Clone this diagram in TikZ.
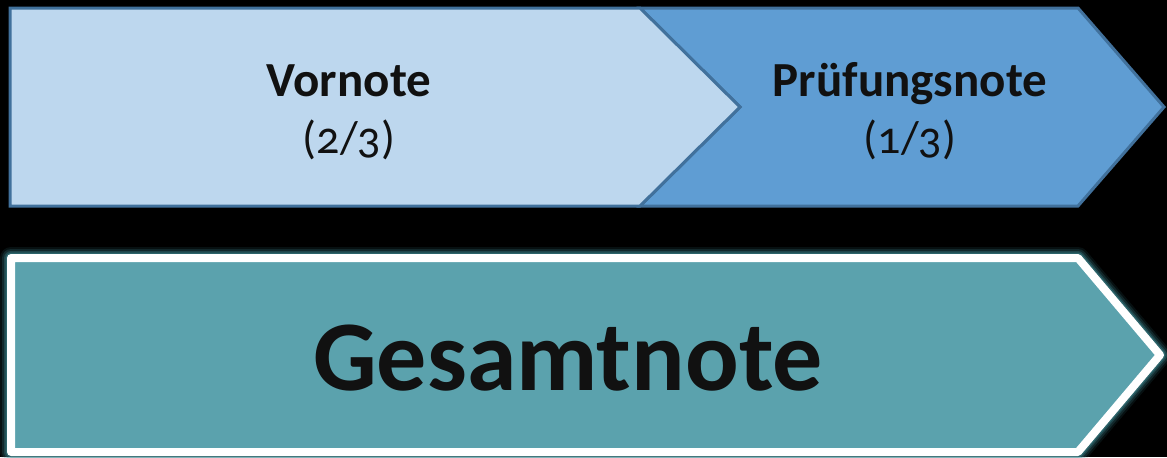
\documentclass[tikz,border=0pt]{standalone}
\usepackage{fontspec}
\setmainfont{Carlito}[Numbers=OldStyle]
\definecolor{vorfill}{HTML}{BDD7EE}
\definecolor{prueffill}{HTML}{5F9DD3}
\definecolor{rand}{HTML}{41719C}
\definecolor{gesamtfill}{HTML}{5BA2AD}
\definecolor{glow}{HTML}{3E8A93}
\definecolor{schrift}{HTML}{111111}
\tikzset{
  teil/.style={draw=rand,line width=1.5pt,line join=miter},
  kopf/.style={anchor=base,text=schrift,font=\bfseries\fontsize{24.5}{28}\selectfont},
  anteil/.style={anchor=base,text=schrift,font=\fontsize{23}{27}\selectfont},
}
\begin{document}
\begin{tikzpicture}[x=0.5pt,y=-0.5pt]
\useasboundingbox (0,0) rectangle (1167,457);
\clip (0,0) rectangle (1167,457);
\fill[black] (0,0) rectangle (1167,457);

% obere Pfeile
\draw[teil,fill=prueffill] (640,8) -- (1078,8) -- (1164,107) -- (1078,206) -- (640,206) -- (740,107) -- cycle;
\draw[teil,fill=vorfill] (10,8) -- (640,8) -- (740,107) -- (640,206) -- (10,206) -- cycle;

\node[kopf] (vornote) at (349,96) {Vornote};
\node[anteil] (vanteil) at (349,153) {(2/3)};
\node[kopf] (pruefung) at (910,96) {Prüfungsnote};
\node[anteil] (panteil) at (910,153) {(1/3)};

% Gesamtnote mit Schein
\foreach \w/\o in {11/0.12,9/0.2,7/0.3,5.5/0.45}
  \draw[glow,opacity=\o,line width=\w pt,line join=round] (11,258) -- (1078,258) -- (1160,355) -- (1078,452) -- (11,452) -- cycle;
\draw[white,fill=gesamtfill,line width=4pt,line join=round] (11,258) -- (1078,258) -- (1160,355) -- (1078,452) -- (11,452) -- cycle;

\node[anchor=base,text=schrift,font=\bfseries\fontsize{50}{56}\selectfont] (gesamt) at (568,390) {Gesamtnote};
\end{tikzpicture}
\end{document}
